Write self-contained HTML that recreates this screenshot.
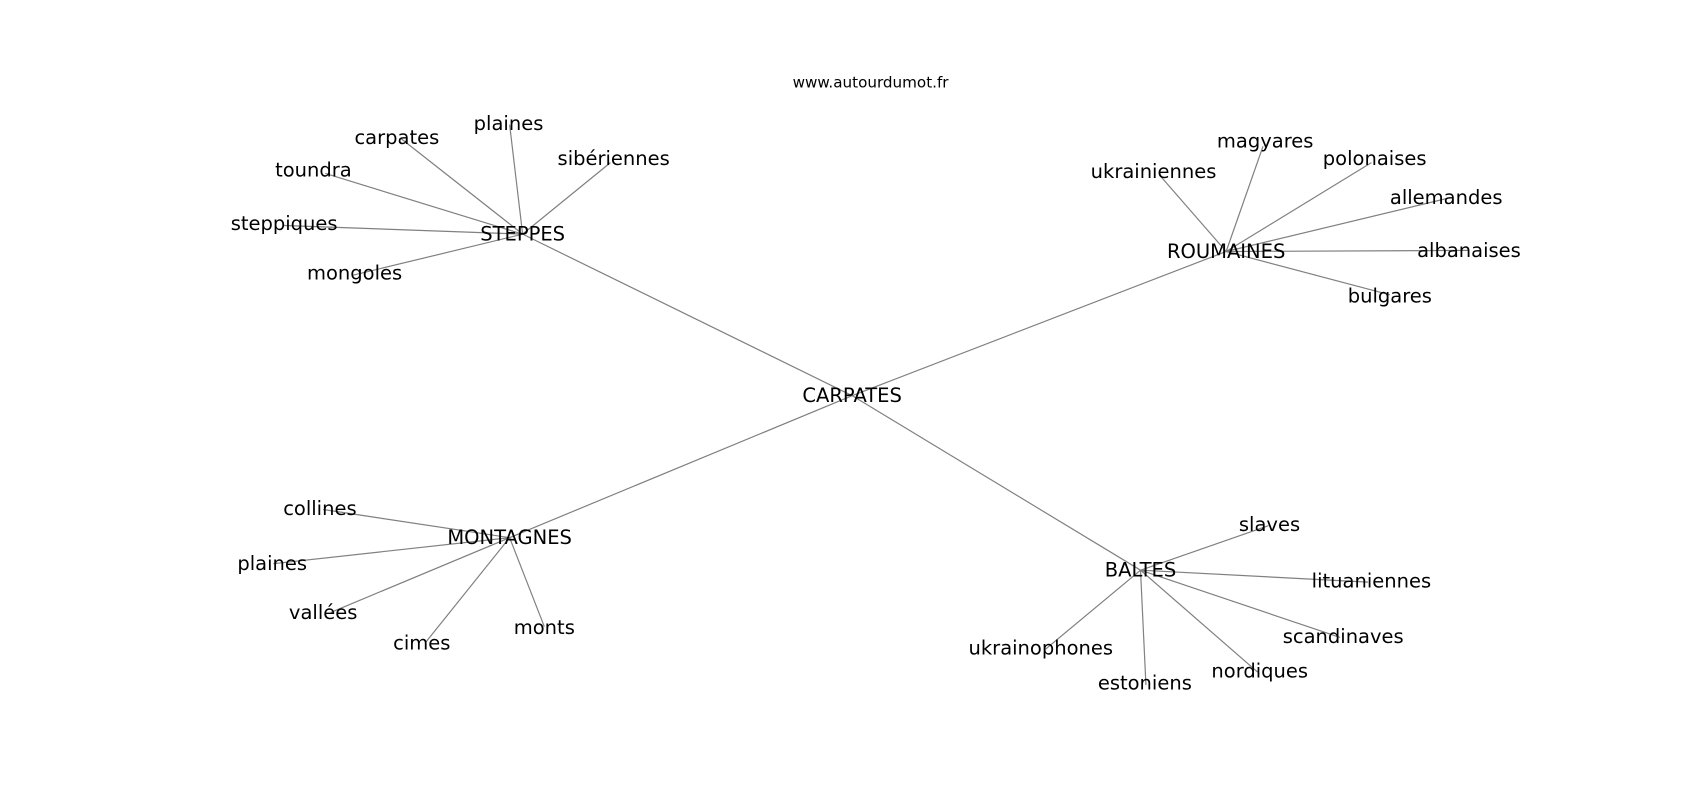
<!DOCTYPE html>
<html><head><meta charset="utf-8"><style>html,body{margin:0;padding:0;background:#fff;}svg{display:block}</style></head>
<body>
<svg width="1700" height="800" viewBox="0 0 1568 738" xmlns="http://www.w3.org/2000/svg" font-family="DejaVu Sans, sans-serif">
<g stroke="#808080" stroke-width="1.1" fill="none">
<line x1="786" y1="365" x2="482" y2="216"/>
<line x1="786" y1="365" x2="1131" y2="232"/>
<line x1="786" y1="365" x2="470" y2="496"/>
<line x1="786" y1="365" x2="1052" y2="526"/>
<line x1="482" y1="216" x2="370" y2="128"/>
<line x1="482" y1="216" x2="470" y2="115"/>
<line x1="482" y1="216" x2="563" y2="150"/>
<line x1="482" y1="216" x2="300" y2="160"/>
<line x1="482" y1="216" x2="262" y2="208"/>
<line x1="482" y1="216" x2="325" y2="254"/>
<line x1="1131" y1="232" x2="1070" y2="162"/>
<line x1="1131" y1="232" x2="1165" y2="135"/>
<line x1="1131" y1="232" x2="1265" y2="150"/>
<line x1="1131" y1="232" x2="1335" y2="183"/>
<line x1="1131" y1="232" x2="1355" y2="231"/>
<line x1="1131" y1="232" x2="1282" y2="272"/>
<line x1="470" y1="496" x2="298" y2="470"/>
<line x1="470" y1="496" x2="252" y2="520"/>
<line x1="470" y1="496" x2="305" y2="565"/>
<line x1="470" y1="496" x2="393" y2="592"/>
<line x1="470" y1="496" x2="502" y2="578"/>
<line x1="1052" y1="526" x2="1170" y2="485"/>
<line x1="1052" y1="526" x2="1262" y2="537"/>
<line x1="1052" y1="526" x2="1236" y2="588"/>
<line x1="1052" y1="526" x2="1160" y2="620"/>
<line x1="1052" y1="526" x2="1057" y2="632"/>
<line x1="1052" y1="526" x2="963" y2="600"/>
</g>
<text x="803" y="76" font-size="14" text-anchor="middle" dominant-baseline="central">www.autourdumot.fr</text>
<g font-size="18" text-anchor="middle" dominant-baseline="central" fill="#000">
<text x="786" y="365">CARPATES</text>
<text x="482" y="216">STEPPES</text>
<text x="1131" y="232">ROUMAINES</text>
<text x="470" y="496">MONTAGNES</text>
<text x="1052" y="526">BALTES</text>
<text x="366" y="127">carpates</text>
<text x="469" y="114">plaines</text>
<text x="566" y="146">sibériennes</text>
<text x="289" y="157">toundra</text>
<text x="262" y="206">steppiques</text>
<text x="327" y="252">mongoles</text>
<text x="1064" y="158">ukrainiennes</text>
<text x="1167" y="130">magyares</text>
<text x="1268" y="146">polonaises</text>
<text x="1334" y="182">allemandes</text>
<text x="1355" y="231">albanaises</text>
<text x="1282" y="273">bulgares</text>
<text x="295" y="469">collines</text>
<text x="251" y="520">plaines</text>
<text x="298" y="565">vallées</text>
<text x="389" y="593">cimes</text>
<text x="502" y="579">monts</text>
<text x="1171" y="484">slaves</text>
<text x="1265" y="536">lituaniennes</text>
<text x="1239" y="587">scandinaves</text>
<text x="1162" y="619">nordiques</text>
<text x="1056" y="630">estoniens</text>
<text x="960" y="598">ukrainophones</text>
</g>
</svg>
</body></html>
